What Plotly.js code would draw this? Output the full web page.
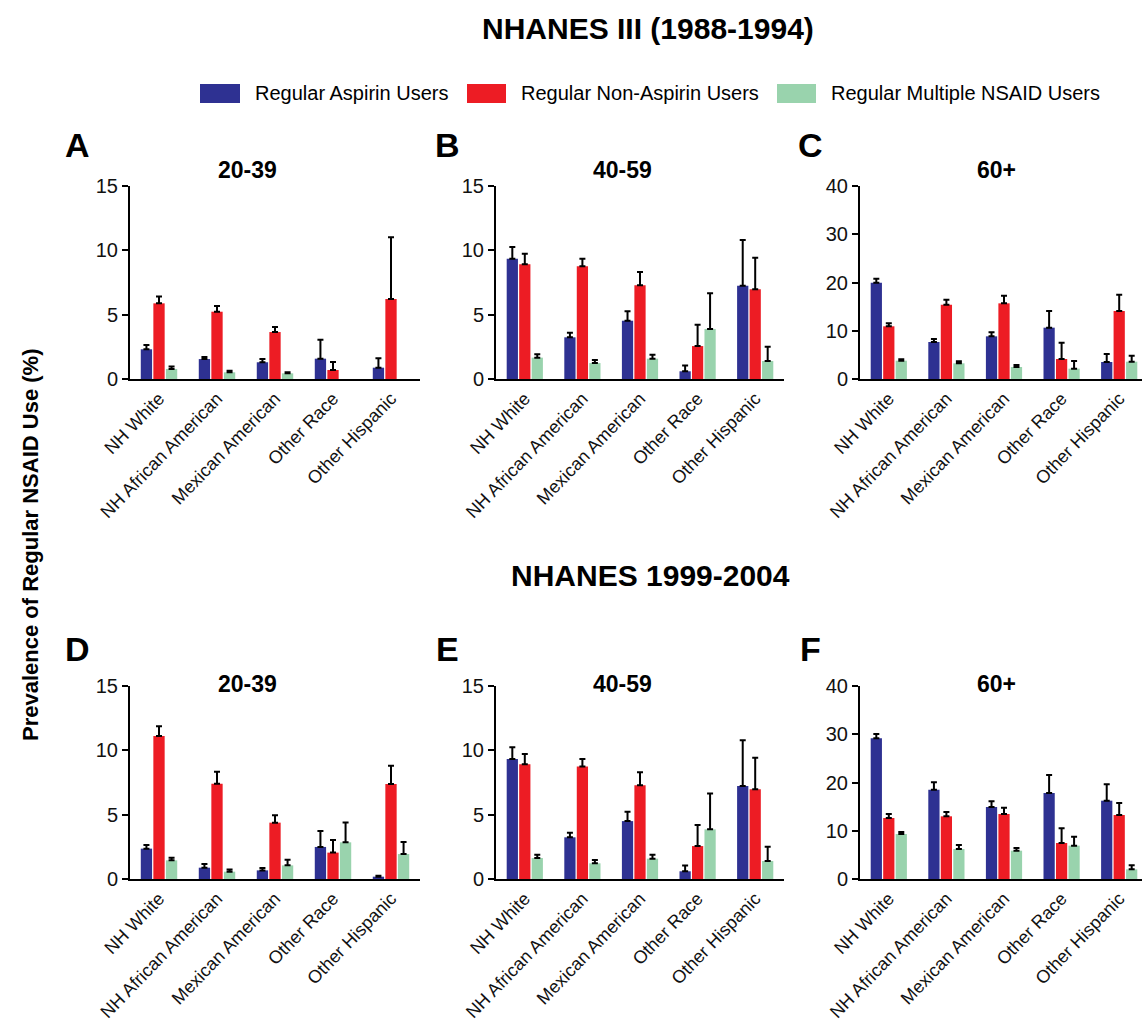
<!DOCTYPE html>
<html>
<head>
<meta charset="utf-8">
<script src="https://cdn.plot.ly/plotly-3.0.1.min.js"></script>
<style>html,body{margin:0;padding:0;background:#fff;}#chart{width:1142px;height:1022px;}</style>
</head>
<body>
<div id="chart"></div>
<script>
// ---- data ----
const categories = ["NH White", "NH African American", "Mexican American", "Other Race", "Other Hispanic"];
const seriesNames = ["Regular Aspirin Users", "Regular Non-Aspirin Users", "Regular Multiple NSAID Users"];
const seriesColors = ["#2e3192", "#ed1c24", "#99d3ad"];
const panelLetters = ["A", "B", "C", "D", "E", "F"];
const panelTitles = ["20-39", "40-59", "60+", "20-39", "40-59", "60+"];
const sectionTitles = ["NHANES III (1988-1994)", "NHANES 1999-2004"];
const yAxisTitle = "Prevalence of Regular NSAID Use (%)";
const yMax = [15, 15, 40, 15, 15, 40];
const yTicks15 = [0, 5, 10, 15];
const yTicks40 = [0, 10, 20, 30, 40];

// Panel A: NHANES III, 20-39
const aAspirin = [2.31, 1.55, 1.30, 1.58, 0.88];
const aAspirinUp = [2.64, 1.71, 1.55, 3.06, 1.61];
const aNonAspirin = [5.88, 5.23, 3.65, 0.70, 6.22];
const aNonAspirinUp = [6.42, 5.67, 4.04, 1.32, 11.01];
const aMultiple = [0.78, 0.52, 0.44, null, null];
const aMultipleUp = [0.98, 0.65, 0.52, null, null];

// Panel B: NHANES III, 40-59
const bAspirin = [9.35, 3.24, 4.53, 0.60, 7.25];
const bAspirinUp = [10.26, 3.60, 5.26, 1.04, 10.80];
const bNonAspirin = [8.91, 8.76, 7.28, 2.56, 6.97];
const bNonAspirinUp = [9.74, 9.35, 8.32, 4.22, 9.43];
const bMultiple = [1.66, 1.24, 1.58, 3.89, 1.40];
const bMultipleUp = [1.92, 1.48, 1.89, 6.66, 2.51];

// Panel C: NHANES III, 60+
const cAspirin = [19.97, 7.67, 8.84, 10.64, 3.52];
const cAspirinUp = [20.79, 8.29, 9.67, 14.09, 5.18];
const cNonAspirin = [10.92, 15.41, 15.68, 4.15, 14.09];
const cNonAspirinUp = [11.54, 16.44, 17.27, 7.53, 17.48];
const cMultiple = [3.80, 3.25, 2.49, 2.14, 3.59];
const cMultipleUp = [4.08, 3.66, 2.90, 3.73, 4.84];

// Panel D: NHANES 1999-2004, 20-39
const dAspirin = [2.36, 0.88, 0.67, 2.49, 0.18];
const dAspirinUp = [2.64, 1.17, 0.85, 3.73, 0.26];
const dNonAspirin = [11.11, 7.41, 4.38, 2.05, 7.38];
const dNonAspirinUp = [11.87, 8.34, 4.95, 3.03, 8.81];
const dMultiple = [1.45, 0.57, 1.06, 2.85, 1.94];
const dMultipleUp = [1.66, 0.73, 1.50, 4.40, 2.88];

// Panel E: NHANES 1999-2004, 40-59
const eAspirin = [9.33, 3.24, 4.50, 0.60, 7.22];
const eAspirinUp = [10.23, 3.60, 5.23, 1.04, 10.78];
const eNonAspirin = [8.91, 8.74, 7.28, 2.56, 6.97];
const eNonAspirinUp = [9.72, 9.33, 8.30, 4.20, 9.43];
const eMultiple = [1.63, 1.22, 1.58, 3.86, 1.40];
const eMultipleUp = [1.89, 1.48, 1.89, 6.64, 2.51];

// Panel F: NHANES 1999-2004, 60+
const fAspirin = [29.15, 18.51, 14.92, 17.82, 16.23];
const fAspirinUp = [30.05, 20.03, 16.10, 21.55, 19.62];
const fNonAspirin = [12.64, 12.99, 13.47, 7.46, 13.26];
const fNonAspirinUp = [13.47, 13.89, 14.78, 10.50, 15.75];
const fMultiple = [9.33, 6.22, 5.87, 6.91, 2.00];
const fMultipleUp = [9.74, 7.05, 6.42, 8.77, 2.83];

const panels = [
  [[aAspirin, aAspirinUp], [aNonAspirin, aNonAspirinUp], [aMultiple, aMultipleUp]],
  [[bAspirin, bAspirinUp], [bNonAspirin, bNonAspirinUp], [bMultiple, bMultipleUp]],
  [[cAspirin, cAspirinUp], [cNonAspirin, cNonAspirinUp], [cMultiple, cMultipleUp]],
  [[dAspirin, dAspirinUp], [dNonAspirin, dNonAspirinUp], [dMultiple, dMultipleUp]],
  [[eAspirin, eAspirinUp], [eNonAspirin, eNonAspirinUp], [eMultiple, eMultipleUp]],
  [[fAspirin, fAspirinUp], [fNonAspirin, fNonAspirinUp], [fMultiple, fMultipleUp]]
];

// ---- layout geometry (pixels) ----
const W = 1142, H = 1022;
const FONT = "Liberation Sans, Arial, Helvetica, sans-serif";
const colX = [[130, 420], [496, 784], [860, 1142]];
const pitch = [58, 57.6, 57.6];
const rowY = [[379, 186], [879, 686]]; // [zero, top]
const px = v => v / W;
const py = v => 1 - v / H;

const traces = [];
const layout = {
  width: W, height: H,
  margin: {l: 0, r: 0, t: 0, b: 0},
  paper_bgcolor: "#fff", plot_bgcolor: "#fff",
  barmode: "group", bargap: 0.35, bargroupgap: 0.1,
  showlegend: false,
  font: {family: FONT, color: "#000"},
  annotations: [], shapes: []
};

panels.forEach((panel, p) => {
  const col = p % 3, row = Math.floor(p / 3);
  const n = p + 1;
  const xa = "x" + (n === 1 ? "" : n), ya = "y" + (n === 1 ? "" : n);
  panel.forEach(([vals, ups], s) => {
    traces.push({
      type: "bar", x: categories, y: vals,
      xaxis: xa, yaxis: ya, name: seriesNames[s],
      marker: {color: seriesColors[s], line: {width: 0}},
      error_y: {
        type: "data", symmetric: false,
        array: vals.map((v, i) => (v == null ? null : ups[i] - v)),
        arrayminus: vals.map(() => 0),
        color: "#000", thickness: 2, width: 3
      },
      hoverinfo: "x+y"
    });
  });
  const widthPx = colX[col][1] - colX[col][0];
  layout["xaxis" + (n === 1 ? "" : n)] = {
    domain: [px(colX[col][0]), Math.min(1, px(colX[col][1]))],
    anchor: ya, type: "category",
    range: [-0.5, -0.5 + widthPx / pitch[col]],
    showline: true, linewidth: 2, linecolor: "#000",
    ticks: "", tickangle: -46,
    tickfont: {family: FONT, size: 18, color: "#111"},
    showgrid: false, zeroline: false, fixedrange: true
  };
  layout["yaxis" + (n === 1 ? "" : n)] = {
    domain: [py(rowY[row][0]), py(rowY[row][1])],
    anchor: xa, range: [0, yMax[p]],
    tickvals: yMax[p] === 40 ? yTicks40 : yTicks15,
    showline: true, linewidth: 2, linecolor: "#000",
    ticks: "outside", ticklen: 6, tickwidth: 2, tickcolor: "#000",
    tickfont: {family: FONT, size: 20, color: "#111"},
    showgrid: false, zeroline: false, fixedrange: true
  };
});

// section titles
[[648, 28], [650, 575]].forEach(([x, y], i) => {
  layout.annotations.push({
    xref: "paper", yref: "paper", x: px(x), y: py(y),
    xanchor: "center", yanchor: "middle", showarrow: false,
    text: "<b>" + sectionTitles[i] + "</b>",
    font: {family: FONT, size: 30, color: "#000"}
  });
});

// panel letters
const letterPos = [[78, 145], [447, 145], [811, 145], [78, 649], [447, 649], [811, 649]];
letterPos.forEach(([x, y], i) => {
  layout.annotations.push({
    xref: "paper", yref: "paper", x: px(x), y: py(y),
    xanchor: "center", yanchor: "middle", showarrow: false,
    text: "<b>" + panelLetters[i] + "</b>",
    font: {family: FONT, size: 34, color: "#000"}
  });
});

// panel titles
const titlePos = [[247, 170], [622, 170], [996, 170], [247, 684], [622, 684], [996, 684]];
titlePos.forEach(([x, y], i) => {
  layout.annotations.push({
    xref: "paper", yref: "paper", x: px(x), y: py(y),
    xanchor: "center", yanchor: "middle", showarrow: false,
    text: "<b>" + panelTitles[i] + "</b>",
    font: {family: FONT, size: 23, color: "#000"}
  });
});

// y-axis title
layout.annotations.push({
  xref: "paper", yref: "paper", x: px(30), y: py(545),
  xanchor: "center", yanchor: "middle", showarrow: false, textangle: -90,
  text: "<b>" + yAxisTitle + "</b>",
  font: {family: FONT, size: 22, color: "#000"}
});

// legend
const legendBoxes = [[200, 240, 253], [467, 506, 519], [777, 816, 829]];
legendBoxes.forEach(([x0, x1, tx], i) => {
  layout.shapes.push({
    type: "rect", xref: "paper", yref: "paper",
    x0: px(x0), x1: px(x1), y0: py(103), y1: py(84),
    fillcolor: seriesColors[i], line: {width: 0}
  });
  layout.annotations.push({
    xref: "paper", yref: "paper", x: px(tx), y: py(93.5),
    xanchor: "left", yanchor: "middle", showarrow: false,
    text: seriesNames[i],
    font: {family: FONT, size: 20, color: "#000"}
  });
});

Plotly.newPlot("chart", traces, layout, {displayModeBar: false, staticPlot: true});
</script>
</body>
</html>
